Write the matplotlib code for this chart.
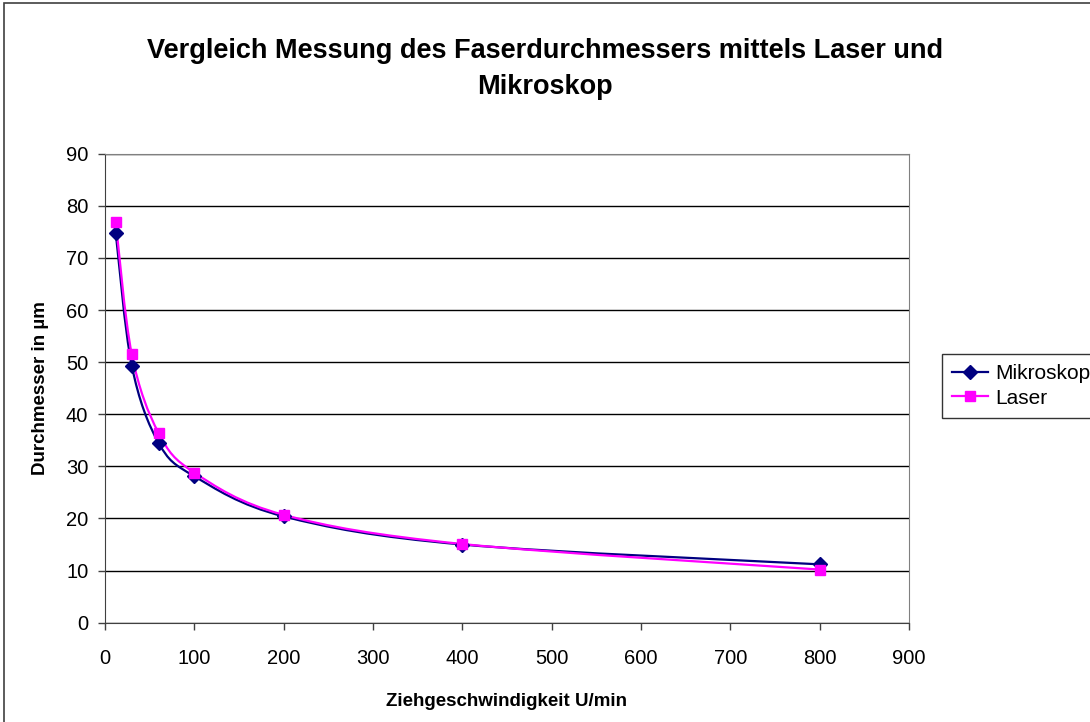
import numpy as np
import matplotlib
matplotlib.use("Agg")
import matplotlib.pyplot as plt
from matplotlib.path import Path
from matplotlib.patches import PathPatch, Rectangle
from matplotlib.lines import Line2D

# Daten
drehzahl = [12, 30, 60, 100, 200, 400, 800]
mikroskop = [74.8, 49.3, 34.5, 28.1, 20.4, 15.0, 11.2]
laser = [76.9, 51.5, 36.4, 28.8, 20.7, 15.1, 10.2]

titel = "Vergleich Messung des Faserdurchmessers mittels Laser und\nMikroskop"
x_titel = "Ziehgeschwindigkeit U/min"
y_titel = "Durchmesser in µm"

plt.rcParams['font.family'] = ['Liberation Sans', 'DejaVu Sans']

W, H = 1090, 722
fig = plt.figure(figsize=(W / 100, H / 100), dpi=100)
ax = fig.add_axes([105 / W, 1 - 622.7 / H, (909 - 105) / W, (622.7 - 153.7) / H])


def glatte_kurve(xs, ys):
    # Excel-artige geglaettete Linie als Bezier-Pfad
    pts = np.column_stack([xs, ys]).astype(float)
    n = len(pts)
    verts = [pts[0]]
    codes = [Path.MOVETO]
    for i in range(n - 1):
        p0 = pts[i - 1] if i > 0 else pts[i]
        p1 = pts[i]
        p2 = pts[i + 1]
        p3 = pts[i + 2] if i + 2 < n else pts[i + 1]
        c1 = p1 + (p2 - p0) / 6
        c2 = p2 - (p3 - p1) / 6
        verts += [c1, c2, p2]
        codes += [Path.CURVE4] * 3
    return Path(verts, codes)


farbe_m = "#000080"
farbe_l = "#FF00FF"

ax.add_patch(PathPatch(glatte_kurve(drehzahl, mikroskop), fill=False,
                       edgecolor=farbe_m, lw=1.6, zorder=3))
ax.add_patch(PathPatch(glatte_kurve(drehzahl, laser), fill=False,
                       edgecolor=farbe_l, lw=1.6, zorder=4))
ax.plot(drehzahl, mikroskop, ls="none", marker="D", ms=7, color=farbe_m, zorder=5)
ax.plot(drehzahl, laser, ls="none", marker="s", ms=7.5, color=farbe_l, zorder=6)

ax.set_xlim(0, 900)
ax.set_ylim(0, 90)
ax.set_xticks(range(0, 901, 100))
ax.set_yticks(range(0, 91, 10))
ax.yaxis.grid(True, color="black", lw=1)
ax.set_axisbelow(True)
for s in ["top", "right"]:
    ax.spines[s].set_color("#808080")
for s in ["left", "bottom"]:
    ax.spines[s].set_color("#404040")
ax.tick_params(axis="both", direction="out", length=5, width=1, color="#404040",
               labelsize=14.5, pad=7)
ax.tick_params(axis="x", pad=14)

ax.set_xlabel(x_titel, fontsize=13.5, fontweight="bold", labelpad=18)
ax.set_ylabel(y_titel, fontsize=13.5, fontweight="bold", labelpad=12)

fig.text(545 / W, 1 - 69 / H, titel, ha="center", va="center", fontsize=19.5,
         fontweight="bold", linespacing=1.55)

# Rahmen des Diagrammbereichs
fig.patches.append(Rectangle((4 / W, -0.1), 1.2, 1 - 3 / H + 0.1, transform=fig.transFigure,
                             fill=False, edgecolor="#404040", lw=1.2))

# Legende
handles = [Line2D([], [], color=farbe_m, marker="D", ms=7, lw=1.6),
           Line2D([], [], color=farbe_l, marker="s", ms=7.5, lw=1.6)]
leg = fig.legend(handles, ["Mikroskop", "Laser"], loc="upper left",
                 bbox_to_anchor=(942 / W, 1 - 354 / H), fontsize=15,
                 frameon=True, fancybox=False, handlelength=1.7, handletextpad=0.35,
                 borderpad=0.5, labelspacing=0.25, borderaxespad=0)
leg.get_frame().set_edgecolor("black")
leg.get_frame().set_linewidth(1)

fig.savefig("out.png", dpi=100)
